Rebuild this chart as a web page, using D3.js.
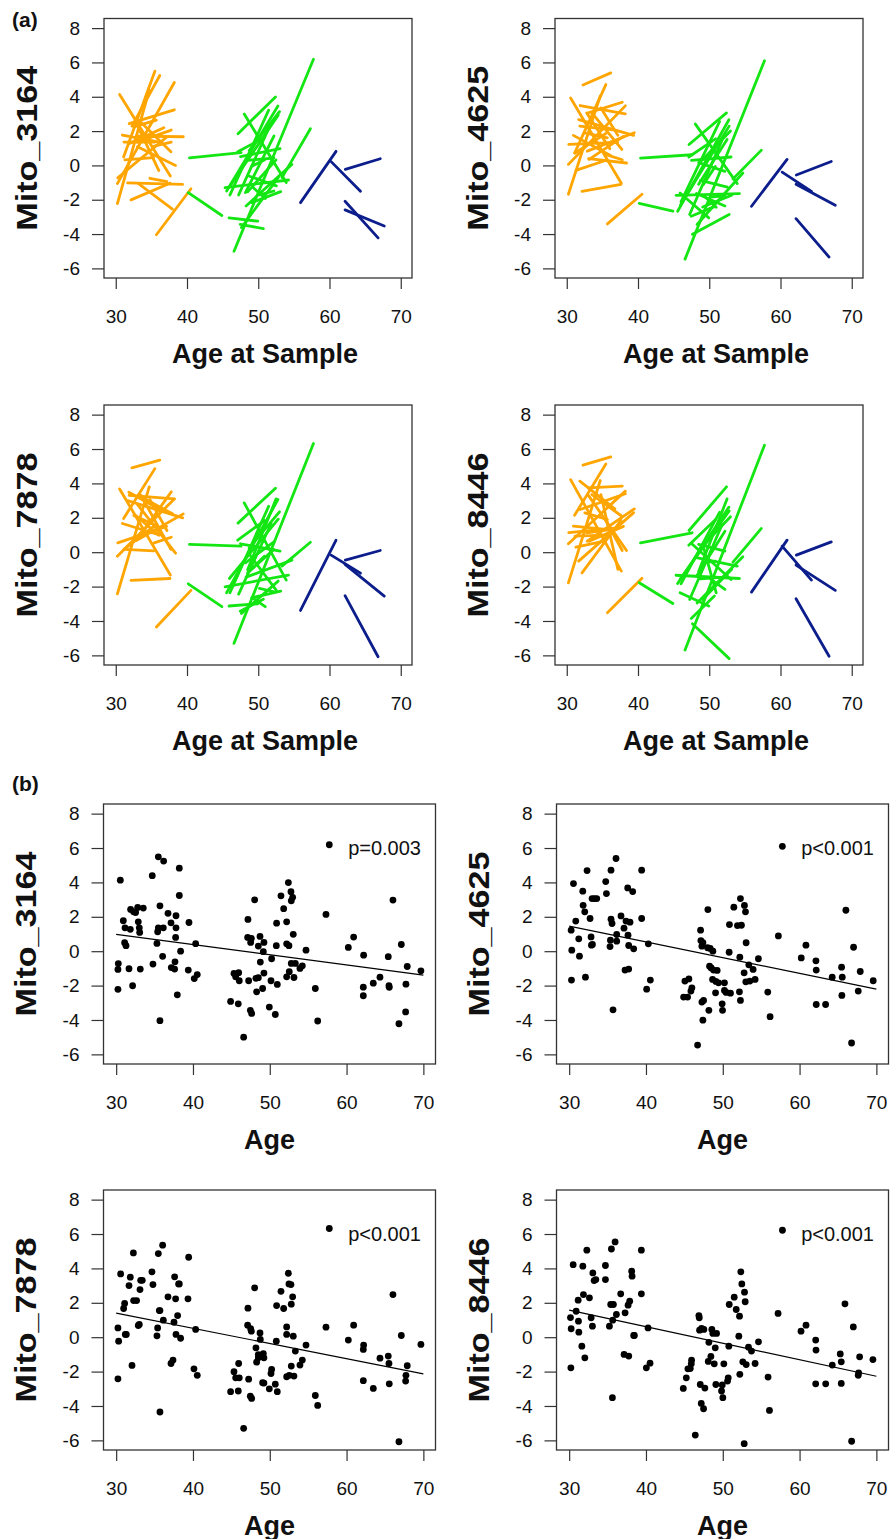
<!DOCTYPE html>
<html><head><meta charset="utf-8">
<script src="https://d3js.org/d3.v7.min.js"></script>
<style>body{margin:0;background:#fff}svg{display:block}text{font-family:"Liberation Sans",Arial,Helvetica,sans-serif;fill:#111}</style>
</head><body><svg id="c" width="890" height="1539"></svg>
<script>
// ---------------- DATA ----------------
const xTicks = [30, 40, 50, 60, 70];
const yTicks = [-6, -4, -2, 0, 2, 4, 6, 8];
const mitoNames = ["Mito_3164", "Mito_4625", "Mito_7878", "Mito_8446"];
const pLabels = ["p=0.003", "p<0.001", "p<0.001", "p<0.001"];
const panelTags = ["(a)", "(b)"];
const xTitleA = "Age at Sample";
const xTitleB = "Age";

// subjects with two samples: [age at first sample, age at second sample]
const subjectAges = [
 [30.54,37.66],[30.23,34.70],[32.27,36.18],[30.23,38.22],[31.10,35.49],[35.70,40.56],[31.67,39.39],[32.14,37.61],
 [33.14,37.96],[34.79,37.18],[32.80,36.05],[33.01,37.79],[32.53,35.70],[33.53,37.74],[30.28,37.14],[30.93,36.14],
 [31.15,35.49],[31.28,35.31],[31.88,38.22],[31.84,36.75],[32.88,39.48],[33.06,38.39],[35.40,37.79],
 [40.35,47.60],[40.17,44.90],[45.90,49.94],[47.64,52.80],[46.60,57.75],[53.33,57.32],[47.16,52.42],[48.03,53.93],
 [45.34,54.24],[45.56,52.76],[45.95,52.80],[46.03,51.46],[47.25,51.81],[48.20,52.20],[47.12,50.89],[47.51,53.06],
 [47.47,50.72],[48.29,54.72],[48.51,52.50],[48.73,52.98],[48.77,52.54],[48.51,52.20],[49.07,53.15],[49.16,50.85],
 [49.24,50.98],[50.16,52.20],
 [55.93,60.92],[60.23,64.35],[62.22,67.13],[62.18,66.82],[62.18,67.69]
];
const subjectGroup = "OOOOOOOOOOOOOOOOOOOOOOOGGGGGGGGGGGGGGGGGGGGGGGGGGBBBBB".split("");

// values at the two samples, per marker (same order as subjectAges)
const seg3164 = [
 [4.13,-0.62],[-2.22,4.39],[2.29,5.24],[-1.06,4.83],[0.49,5.49],[-4.04,-1.36],[-1.02,-1.10],[-2.01,-1.04],[-1.04,-2.54],[-0.75,-0.95],[2.54,-0.30],[1.36,2.06],[2.25,2.64],[2.51,0.80],[-0.72,1.65],[1.77,1.36],[1.36,1.36],[0.32,0.45],[2.43,3.24],[1.27,2.20],[1.71,1.67],[1.09,0.0],[1.13,1.36],
 [0.44,0.74],[-1.59,-2.92],[-3.06,-3.25],[-3.62,-0.71],[-5.0,6.19],[-0.71,2.14],[1.85,3.99],[2.99,-1.00],[-1.29,-0.85],[-1.49,3.46],[-1.25,2.93],[-1.72,3.22],[-1.72,2.47],[-1.58,1.71],[0.80,1.63],[0.51,0.98],[-3.44,-3.68],[-2.36,0.06],[-1.54,0.32],[0.86,3.13],[-0.63,-1.19],[0.30,0.43],[-2.17,-1.53],[-0.03,0.32],[-1.27,-1.93],[-1.72,-1.49],
 [-2.17,0.82],[0.22,-1.51],[-0.23,0.39],[-2.09,-4.22],[-2.59,-3.53]
];
const seg4625 = [
 [3.93,-1.04],[-1.68,4.05],[4.69,5.39],[0.06,3.47],[0.72,4.71],[-3.41,-1.68],[2.67,1.75],[-1.51,-1.10],[0.35,1.69],[3.35,1.75],[3.06,0.97],[3.06,3.68],[1.90,1.61],[3.06,0.93],[1.22,1.34],[1.75,0.58],[0.72,1.86],[-0.29,0.27],[3.49,3.0],[2.29,2.05],[0.83,1.90],[0.39,0.14],[0.64,0.33],
 [0.43,0.62],[-2.21,-2.67],[-1.61,-3.06],[-4.01,-2.86],[-5.46,6.10],[-0.79,0.89],[1.22,3.06],[2.42,-1.06],[-1.74,-1.64],[-2.67,2.66],[-2.32,2.29],[-2.13,2.56],[-2.86,1.49],[-1.64,-2.36],[0.49,1.55],[0.29,0.49],[-2.96,-2.40],[-3.44,-0.44],[-1.10,1.51],[0.20,2.0],[-0.87,-1.26],[0.16,-0.35],[-2.42,-1.74],[-1.12,-0.06],[-1.76,-2.44],[-1.84,-1.78],
 [-2.38,0.35],[-0.39,-1.51],[-0.56,0.23],[-3.10,-5.34],[-1.10,-2.32]
];
const seg7878 = [
 [3.68,-1.33],[-2.42,3.80],[4.90,5.35],[-0.23,3.10],[1.96,4.86],[-4.35,-2.22],[3.0,2.0],[-1.64,-1.53],[3.31,2.23],[3.06,1.26],[2.13,0.99],[0.74,3.51],[2.13,1.55],[3.31,0.16],[0.54,1.5],[1.67,1.0],[0.16,1.55],[0.16,0.08],[3.3,3.10],[3.49,2.35],[0.68,2.23],[2.77,-0.06],[0.54,0.87],
 [0.45,0.35],[-1.84,-3.17],[-3.13,-3.0],[-3.56,-1.68],[-5.30,6.32],[-0.81,0.58],[1.69,3.72],[2.87,-1.62],[-2.01,-1.33],[-2.36,3.06],[-1.53,1.92],[-2.36,2.67],[-2.44,1.67],[-0.62,0.60],[0.70,1.84],[0.49,0.06],[-3.43,-2.73],[-1.45,-0.46],[-1.02,3.10],[0.25,2.35],[-0.13,-2.22],[-1.20,0.16],[-2.65,-2.26],[-0.95,-0.23],[-2.67,-3.17],[-2.11,-2.30],
 [-3.39,0.70],[-0.17,-1.22],[-0.46,0.10],[-2.53,-6.08],[-0.71,-2.55]
];
const seg8446 = [
 [4.22,-1.10],[-1.78,4.17],[5.06,5.54],[0.49,3.55],[2.15,5.13],[-3.52,-1.51],[-0.52,2.3],[-1.20,1.86],[0.64,1.5],[3.35,-1.0],[1.13,1.32],[3.74,3.84],[2.29,1.90],[3.35,2.09],[1.14,1.42],[1.51,1.3],[0.93,0.99],[0.29,0.64],[2.48,3.4],[4.13,2.52],[0.64,2.52],[3.29,0.10],[1.90,0.10],
 [0.54,1.13],[-1.78,-2.98],[-2.36,-3.13],[-4.16,-6.19],[-5.69,6.22],[-0.58,1.38],[1.26,3.80],[-0.30,-0.81],[-1.34,-1.53],[-1.82,2.62],[-1.55,2.4],[-1.84,2.33],[-2.75,1.61],[-1.41,1.22],[0.41,1.90],[0.51,-1.59],[-3.85,-2.55],[-2.96,-0.27],[-1.12,3.10],[0.22,2.06],[-1.55,-1.43],[0.45,0.06],[-2.75,-1.0],[-0.62,-0.52],[0.22,-2.36],[-1.55,-2.16],
 [-2.32,0.70],[0.35,-1.62],[-0.17,0.60],[-2.71,-6.05],[-0.75,-2.22]
];

// all samples [age, value], per marker
const pts3164 = [
 [30.54,4.13],[30.28,-0.72],[30.23,-1.06],[30.23,-2.22],[30.93,1.77],[31.15,1.36],[31.10,0.49],[31.28,0.32],[31.67,-1.02],[31.84,1.27],[31.88,2.43],[32.14,-2.01],[32.27,2.29],[32.53,2.25],[32.80,2.54],[32.88,1.71],[33.01,1.36],[33.06,1.09],[33.14,-1.04],[33.53,2.51],[34.70,4.39],[35.49,5.49],[36.18,5.24],[34.79,-0.75],[35.31,0.45],[35.40,1.13],[35.49,1.36],[35.70,2.64],[35.70,-4.04],[36.05,-0.30],[36.14,1.36],[36.75,2.20],[37.14,1.65],[37.18,-0.95],[37.61,-1.04],[37.66,-0.62],[37.74,0.80],[37.79,1.36],[37.79,2.06],[37.96,-2.54],[38.22,4.83],[38.22,3.24],[38.39,0.0],[39.48,1.67],[39.39,-1.10],[40.17,-1.59],[40.56,-1.36],[40.35,0.44],
 [44.90,-2.92],[45.34,-1.29],[45.56,-1.49],[45.95,-1.25],[45.90,-3.06],[46.03,-1.72],[46.60,-5.0],[47.16,1.85],[47.12,0.80],[47.25,-1.72],[47.47,-3.44],[47.64,-3.62],[47.51,0.51],[47.60,0.74],[48.03,2.99],[48.20,-1.58],[48.29,-2.36],[48.51,-1.54],[48.73,0.86],[48.77,-0.63],[48.51,0.30],[49.07,-2.17],[49.16,-0.03],[49.24,0.51],[49.24,-1.27],[49.94,-3.25],[50.16,-1.72],[50.24,-0.44],[50.72,-3.68],[50.85,0.32],[50.89,1.63],[50.98,-1.93],[51.46,3.22],[51.81,2.47],[52.20,1.71],[52.20,0.43],[52.20,-1.49],[52.42,3.99],[52.50,0.32],[52.54,-1.19],[52.80,2.93],[52.76,3.46],[52.98,3.13],[53.06,0.98],[52.80,-0.71],[53.15,-1.53],[53.33,-0.71],[53.93,-1.00],[54.24,-0.85],[54.72,0.06],[55.93,-2.17],[56.24,-4.06],[57.32,2.14],[57.75,6.19],
 [60.23,0.22],[60.92,0.82],[62.22,-0.23],[62.18,-2.09],[62.18,-2.59],[63.48,-1.86],[64.35,-1.51],[65.43,-0.32],[65.52,-2.01],[65.56,-2.10],[66.04,2.97],[66.82,-4.22],[67.13,0.39],[67.69,-3.53],[67.73,-1.92],[67.90,-0.89],[69.68,-1.14]
];
const pts4625 = [
 [30.26,1.22],[30.30,-1.68],[30.34,0.06],[30.56,3.93],[30.86,1.75],[31.25,0.72],[31.34,-0.29],[31.77,3.49],[31.82,2.67],[32.03,2.29],[32.12,-1.51],[32.33,4.69],[32.72,1.90],[32.85,0.83],[32.90,0.35],[33.03,0.39],[32.98,3.06],[33.29,3.06],[33.59,3.06],[34.76,4.05],[34.85,3.35],[35.32,0.27],[35.37,0.64],[35.45,4.71],[35.45,1.86],[35.58,1.61],[35.71,-3.41],[36.10,5.39],[36.19,0.97],[36.19,0.58],[36.75,2.05],[37.14,1.34],[37.27,-1.10],[37.40,1.75],[37.62,3.68],[37.75,-1.04],[37.66,0.93],[37.75,0.33],[37.92,1.69],[38.27,3.47],[38.40,0.14],[39.44,4.71],[39.44,1.90],[40.09,-2.21],[40.31,0.43],[40.57,-1.68],
 [44.90,-2.67],[45.07,-1.74],[45.42,-2.67],[45.59,-1.61],[45.85,-2.32],[45.98,-2.13],[46.72,-5.46],[47.11,1.22],[47.15,0.62],[47.28,0.29],[47.41,0.49],[47.28,-2.96],[47.50,-2.86],[47.41,-4.01],[48.06,2.42],[48.02,0.20],[48.19,-3.44],[48.28,-0.87],[48.36,0.16],[48.49,-0.97],[48.71,0.0],[48.67,-1.64],[48.80,-1.10],[49.06,-2.42],[49.10,-1.76],[49.27,-1.12],[49.45,-1.84],[49.92,-3.06],[49.97,-3.44],[50.22,-1.84],[50.22,-2.28],[50.44,-2.40],[50.83,-0.06],[50.87,1.55],[51.00,-2.44],[51.44,2.56],[51.91,1.49],[52.17,-2.36],[52.30,3.06],[52.30,-2.86],[52.43,1.51],[52.22,-0.35],[52.82,2.66],[52.96,2.29],[53.04,0.49],[52.78,-1.26],[53.00,-1.78],[53.39,-0.79],[53.52,-1.74],[53.95,-1.06],[54.21,-1.64],[54.64,-0.44],[55.86,-2.38],[56.16,-3.81],[57.24,0.89],[57.76,6.10],
 [60.22,-0.39],[60.83,0.35],[62.13,-0.56],[62.17,-1.10],[62.17,-3.10],[63.39,-3.10],[64.25,-1.51],[65.51,-2.57],[65.47,-0.93],[65.56,-1.51],[66.03,2.38],[66.77,-5.34],[67.03,0.23],[67.64,-2.32],[67.90,-1.18],[69.59,-1.72]
];
const pts7878 = [
 [30.23,0.54],[30.32,-0.23],[30.23,-2.42],[30.58,3.68],[30.97,1.67],[31.10,1.96],[31.19,0.16],[31.32,0.16],[31.67,3.0],[31.84,3.49],[32.06,-1.64],[32.24,4.90],[32.27,2.13],[32.66,2.13],[32.88,0.68],[33.01,0.74],[33.10,2.77],[33.19,3.31],[33.40,3.31],[34.66,3.80],[34.79,3.06],[35.31,0.08],[35.40,0.54],[35.49,4.86],[35.62,1.55],[35.70,1.55],[35.70,-4.35],[36.05,5.35],[36.14,0.99],[36.75,2.35],[37.14,-1.53],[37.40,-1.33],[37.53,0.87],[37.61,3.51],[37.74,2.23],[37.79,0.16],[38.0,1.26],[38.13,3.10],[38.22,3.10],[38.39,-0.06],[39.35,2.23],[39.44,4.65],[40.13,-1.84],[40.35,0.45],[40.56,-2.22],
 [44.90,-3.17],[45.34,-2.01],[45.56,-2.36],[45.95,-1.53],[45.90,-3.13],[46.03,-2.36],[46.60,-5.30],[47.16,1.69],[47.12,0.70],[47.25,-2.44],[47.47,-3.43],[47.64,-3.56],[47.51,0.49],[47.60,0.35],[48.03,2.87],[48.20,-0.62],[48.29,-1.45],[48.51,-1.02],[48.73,0.25],[48.77,-0.13],[48.51,-1.20],[49.07,-2.65],[49.16,-0.95],[49.24,-1.20],[49.24,-2.67],[49.94,-3.0],[50.16,-2.11],[50.24,-1.88],[50.72,-2.73],[50.85,-0.23],[50.89,1.84],[50.98,-3.17],[51.46,2.67],[51.81,1.67],[52.20,0.60],[52.20,0.16],[52.20,-2.30],[52.42,3.72],[52.50,3.10],[52.54,-2.22],[52.80,1.92],[52.76,3.06],[52.98,2.35],[53.06,0.06],[52.80,-1.68],[53.15,-2.26],[53.33,-0.81],[53.93,-1.62],[54.24,-1.33],[54.72,-0.46],[55.93,-3.39],[56.24,-3.97],[57.32,0.58],[57.75,6.32],
 [60.23,-0.17],[60.92,0.70],[62.22,-0.46],[62.18,-0.71],[62.18,-2.53],[63.48,-2.98],[64.35,-1.22],[65.43,-1.10],[65.52,-1.53],[65.56,-2.71],[66.04,2.48],[66.82,-6.08],[67.13,0.10],[67.69,-2.55],[67.73,-2.22],[67.90,-1.66],[69.68,-0.42]
];
const pts8446 = [
 [30.22,-1.78],[30.26,0.49],[30.17,1.14],[30.52,4.22],[30.91,1.51],[31.17,2.15],[31.21,0.93],[31.26,0.29],[31.65,-0.52],[31.78,4.13],[31.86,2.48],[32.04,-1.20],[32.30,5.06],[32.64,2.29],[32.86,1.13],[33.03,0.64],[33.08,3.74],[33.25,3.29],[33.47,3.35],[34.72,4.17],[34.72,3.35],[35.24,0.64],[35.41,1.90],[35.50,5.13],[35.67,0.99],[35.76,1.90],[35.98,5.54],[35.63,-3.52],[36.15,1.32],[36.71,2.52],[37.15,-1.0],[37.28,1.42],[37.67,1.86],[37.76,-1.10],[37.88,2.09],[38.14,3.84],[38.19,3.55],[38.40,0.10],[38.49,0.10],[39.40,5.06],[39.40,2.52],[40.05,-1.78],[40.27,0.54],[40.53,-1.51],
 [44.86,-2.98],[45.25,-2.36],[45.77,-1.82],[45.90,-1.55],[45.46,-1.84],[45.94,-1.34],[46.42,-5.69],[46.89,1.26],[46.94,1.13],[46.98,0.41],[47.24,0.51],[47.07,-2.75],[47.20,-3.85],[47.50,-4.16],[47.54,0.45],[47.67,-2.96],[48.11,-1.41],[48.19,-0.30],[48.45,-1.12],[48.58,0.45],[48.71,0.22],[48.89,-1.55],[49.02,-0.62],[49.10,-2.75],[49.19,0.22],[49.84,-3.13],[49.93,-2.78],[50.01,-3.52],[50.14,-1.55],[50.62,-2.55],[50.71,-2.36],[50.79,-0.52],[50.84,1.90],[51.49,2.33],[51.75,1.61],[52.09,0.06],[52.18,1.22],[52.22,-2.16],[52.35,3.80],[52.48,3.10],[52.61,-1.43],[52.79,-6.19],[52.83,2.62],[52.92,2.06],[53.05,-1.59],[53.35,-0.58],[53.74,-0.81],[54.21,-1.53],[54.65,-0.27],[55.90,-2.32],[56.08,-4.26],[57.20,1.38],[57.77,6.22],
 [60.19,0.35],[60.84,0.70],[62.10,-0.17],[62.14,-0.75],[62.10,-2.71],[63.40,-2.71],[64.26,-1.62],[65.30,-0.97],[65.43,-1.43],[65.43,-2.69],[65.91,1.94],[66.78,-6.05],[67.0,0.60],[67.64,-2.22],[67.69,-2.07],[67.82,-1.14],[69.55,-1.30]
];

// fitted trend: value at age 30 and at age 70
const fitAges = [30, 70];
const fit3164 = [0.98, -1.39];
const fit4625 = [1.46, -2.21];
const fit7878 = [1.40, -2.13];
const fit8446 = [1.57, -2.27];

// ---------------- DRAWING ----------------
const segData = [seg3164, seg4625, seg7878, seg8446];
const ptsData = [pts3164, pts4625, pts7878, pts8446];
const fitData = [fit3164, fit4625, fit7878, fit8446];
const groupColor = {O: "#FFA500", G: "#14E614", B: "#0C1D8C"};
const xDomain = [28.35, 71.58], yDomain = [-6.56, 8.56];

const boxesA = [
  {x0:104, x1:412, y0:18.5, y1:278}, {x0:555, x1:863, y0:18.5, y1:278},
  {x0:104, x1:412, y0:405, y1:665}, {x0:555, x1:863, y0:405, y1:665}];
const boxesB = [
  {x0:103.5, x1:435.5, y0:804, y1:1064}, {x0:556.5, x1:888.5, y0:804, y1:1064},
  {x0:103.5, x1:435.5, y0:1190, y1:1450}, {x0:556.5, x1:888.5, y0:1190, y1:1450}];

const svg = d3.select("#c");
svg.append("rect").attr("width", 890).attr("height", 1539).attr("fill", "#fff");

function frame(b, name, xTitle, titleShift) {
  const x = d3.scaleLinear().domain(xDomain).range([b.x0, b.x1]);
  const y = d3.scaleLinear().domain(yDomain).range([b.y1, b.y0]);
  const g = svg.append("g");
  const ax = g.append("g").attr("transform", `translate(0,${b.y1})`)
    .call(d3.axisBottom(x).tickValues(xTicks).tickSize(11).tickPadding(20.5).tickFormat(d3.format("d")));
  const ay = g.append("g").attr("transform", `translate(${b.x0},0)`)
    .call(d3.axisLeft(y).tickValues(yTicks).tickSize(12).tickPadding(12).tickFormat(d => String(d).replace("\u2212", "-")));
  [ax, ay].forEach(a => {
    a.select(".domain").remove();
    a.selectAll(".tick line").attr("stroke", "#333").attr("stroke-width", 1.2);
    a.selectAll(".tick text").attr("font-size", 19).attr("fill", "#111")
      .attr("font-family", '"Liberation Sans",Arial,sans-serif');
  });
  g.append("rect").attr("x", b.x0).attr("y", b.y0).attr("width", b.x1 - b.x0).attr("height", b.y1 - b.y0)
    .attr("fill", "none").attr("stroke", "#333").attr("stroke-width", 1.3);
  g.append("text").attr("x", (b.x0 + b.x1) / 2 + titleShift).attr("y", b.y1 + 84.5)
    .attr("text-anchor", "middle").attr("font-size", 27).attr("font-weight", "bold").text(xTitle);
  const cy = (b.y0 + b.y1) / 2, cx = b.x0 - 67.5;
  g.append("text").attr("transform", `translate(${cx},${cy}) rotate(-90)`)
    .attr("text-anchor", "middle").attr("font-size", 29).attr("font-weight", "bold")
    .attr("textLength", 165).attr("lengthAdjust", "spacingAndGlyphs").text(name);
  return {x, y, g};
}

// (a) spaghetti panels
boxesA.forEach((b, k) => {
  const {x, y, g} = frame(b, mitoNames[k], xTitleA, 7);
  const rows = subjectAges.map((a, i) => ({a1: a[0], a2: a[1], v1: segData[k][i][0], v2: segData[k][i][1], grp: subjectGroup[i]}));
  g.append("g").selectAll("line").data(rows).join("line")
    .attr("x1", d => x(d.a1)).attr("y1", d => y(d.v1))
    .attr("x2", d => x(d.a2)).attr("y2", d => y(d.v2))
    .attr("stroke", d => groupColor[d.grp]).attr("stroke-width", 2.8).attr("stroke-linecap", "round");
});

// (b) scatter panels
boxesB.forEach((b, k) => {
  const {x, y, g} = frame(b, mitoNames[k], xTitleB, 0);
  g.append("g").selectAll("circle").data(ptsData[k]).join("circle")
    .attr("cx", d => x(d[0])).attr("cy", d => y(d[1])).attr("r", 3.4).attr("fill", "#000");
  const f = fitData[k];
  g.append("path").datum(fitAges.map((a, i) => [a, f[i]]))
    .attr("d", d3.line().x(d => x(d[0])).y(d => y(d[1])))
    .attr("stroke", "#000").attr("stroke-width", 1.2).attr("fill", "none");
  g.append("text").attr("x", b.x1 - 14.5).attr("y", b.y0 + 51).attr("text-anchor", "end")
    .attr("font-size", 20).text(pLabels[k]);
});

svg.append("text").attr("x", 12).attr("y", 27).attr("font-size", 21).attr("font-weight", "bold").text(panelTags[0]);
svg.append("text").attr("x", 12).attr("y", 791).attr("font-size", 21).attr("font-weight", "bold").text(panelTags[1]);
</script></body></html>
